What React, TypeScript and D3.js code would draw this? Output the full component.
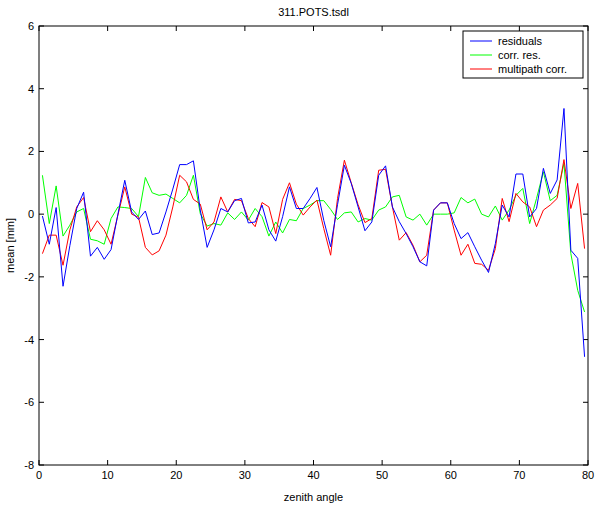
import React from "react";
import * as d3 from "d3";

const angles = d3.range(80).map((i) => i + 0.5);
const residuals = [-0.06, -0.96, 0.21, -2.3, -1.0, 0.18, 0.7, -1.34, -1.06, -1.44, -1.13, 0.0, 1.08, 0.07, -0.17, 0.1, -0.65, -0.6, 0.07, 0.8, 1.58, 1.58, 1.7, 0.13, -1.06, -0.5,
  0.18, 0.07, 0.43, 0.5, -0.28, -0.25, 0.29, -0.5, -0.86, -0.08, 0.87, 0.18, 0.18, 0.5, 0.85, -0.2, -1.04, 0.3, 1.56, 0.98, 0.23, -0.53, -0.25, 1.24, 1.54, 0.23, -0.24,
  -0.62, -1.04, -1.52, -1.65, 0.13, 0.36, 0.36, -0.3, -0.78, -0.59, -1.04, -1.47, -1.86, -0.94, 0.29, -0.09, 1.28, 1.28, -0.09, 0.18, 1.46, 0.66, 1.09, 3.37, -1.15, -1.41, -4.55];
const corrRes = [-1.26, -0.67, -0.67, -1.63, -0.5, 0.23, 0.53, -0.56, -0.21, -0.5, -0.96, -0.03, 0.87, 0.0, -0.1, -1.06, -1.3, -1.17, -0.67, 0.23, 1.24, 1.03, 0.47, 0.32, -0.5, -0.25,
  0.55, 0.07, 0.47, 0.43, -0.14, -0.4, 0.37, 0.23, -0.62, 0.47, 1.0, 0.32, -0.03, 0.23, 0.45, -0.46, -1.31, 0.5, 1.72, 1.0, 0.3, -0.27, -0.14, 1.4, 1.43, 0.23, -0.83,
  -0.59, -0.99, -1.52, -1.31, 0.13, 0.36, 0.36, -0.51, -1.31, -0.96, -1.57, -1.6, -1.79, -1.1, 0.5, -0.24, 0.66, 0.39, 0.23, -0.4, 0.13, 0.29, 0.5, 1.74, 0.18, 0.98, -1.1];
const multipath = [1.24, -0.3, 0.9, -0.7, -0.35, 0.07, 0.18, -0.8, -0.85, -0.96, -0.14, 0.23, 0.21, 0.18, -0.08, 1.17, 0.68, 0.6, 0.64, 0.5, 0.36, 0.6, 1.24, 0.02, -0.38, -0.3,
  -0.35, 0.04, -0.17, 0.07, -0.19, 0.18, -0.08, -0.7, -0.25, -0.6, -0.17, -0.21, 0.18, 0.29, 0.43, 0.43, 0.15, -0.17, 0.04, 0.07, -0.25, -0.14, -0.19, 0.13, 0.23, 0.55, 0.6,
  -0.09, -0.19, 0, -0.35, 0, 0, 0, 0.04, 0.53, 0.36, 0.48, 0, -0.09, 0.26, -0.19, 0.13, 0.6, 0.82, -0.3, 0.5, 1.35, 0.43, 0.6, 1.62, -1.26, -2.43, -3.12];
const xTicks = [0, 10, 20, 30, 40, 50, 60, 70, 80];
const yTicks = [-8, -6, -4, -2, 0, 2, 4, 6];
const series = [
  { name: "residuals", values: residuals, color: "#0000ff" },
  { name: "corr. res.", values: multipath, color: "#00ff00" },
  { name: "multipath corr.", values: corrRes, color: "#ff0000" },
];

export default function App() {
  const W = 600, H = 507;
  const L = 39, R = 588, T = 26, B = 465;
  const x = d3.scaleLinear().domain([0, 80]).range([L, R]);
  const y = d3.scaleLinear().domain([-8, 6]).range([B, T]);
  const line = (vals: number[]) =>
    d3.line<number>().x((_, i) => x(angles[i])).y((d) => y(d))(vals)!;
  const font = "Helvetica, Arial, 'Liberation Sans', sans-serif";
  return (
    <svg width={W} height={H} style={{ position: "absolute", left: 0, top: 0 }} fontFamily={font} fontSize={11}>
      <rect width={W} height={H} fill="#fff" />
      <rect x={L} y={T} width={R - L} height={B - T} fill="#fff" stroke="#000" />
      {xTicks.map((t) => (
        <g key={t}>
          <line x1={x(t)} x2={x(t)} y1={B} y2={B - 5} stroke="#000" />
          <line x1={x(t)} x2={x(t)} y1={T} y2={T + 5} stroke="#000" />
          <text x={x(t)} y={B + 14} textAnchor="middle">{t}</text>
        </g>
      ))}
      {yTicks.map((t) => (
        <g key={t}>
          <line x1={L} x2={L + 5} y1={y(t)} y2={y(t)} stroke="#000" />
          <line x1={R} x2={R - 5} y1={y(t)} y2={y(t)} stroke="#000" />
          <text x={L - 5} y={y(t) + 4} textAnchor="end">{t}</text>
        </g>
      ))}
      {[series[1], series[2], series[0]].map((s) => (
        <path key={s.name} d={line(s.values)} fill="none" stroke={s.color} strokeWidth={1} />
      ))}
      <text x={(L + R) / 2} y={16} textAnchor="middle">311.POTS.tsdl</text>
      <text x={(L + R) / 2} y={501} textAnchor="middle">zenith angle</text>
      <text transform={`translate(14,${(T + B) / 2}) rotate(-90)`} textAnchor="middle">mean  [mm]</text>
      <rect x={463} y={31} width={120} height={47} fill="#fff" stroke="#000" />
      {series.map((s, i) => (
        <g key={s.name}>
          <line x1={470} x2={492} y1={41 + i * 14} y2={41 + i * 14} stroke={s.color} />
          <text x={498} y={45 + i * 14}>{s.name}</text>
        </g>
      ))}
    </svg>
  );
}
